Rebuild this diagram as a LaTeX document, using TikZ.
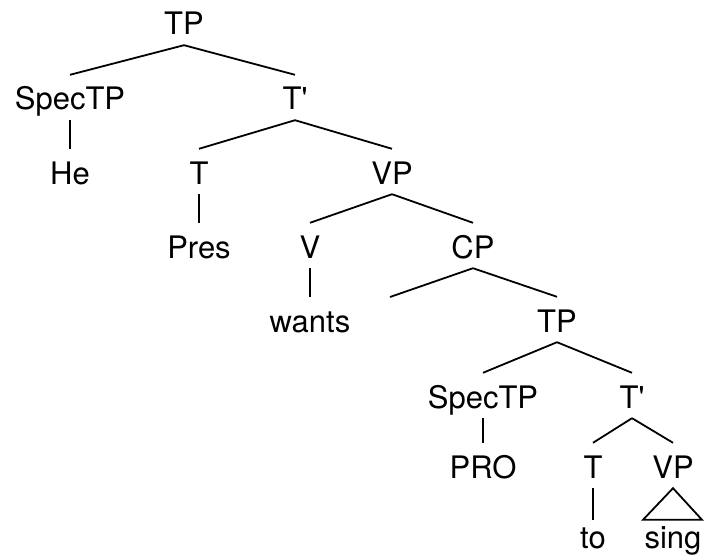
\documentclass[tikz,border=0pt]{standalone}
\usepackage{fontspec}
\setmainfont{TeX Gyre Heros}
\usetikzlibrary{calc}
\tikzset{
	cat/.style = {anchor=base, inner sep=3pt, text height=32pt, text depth=7pt, font=\fontsize{31}{37}\selectfont},
	low/.style = {text height=25pt},
	branch/.style = {line width=1.8pt}
}

\begin{document}
\begin{tikzpicture}[x=1pt,y=-1pt]
	\useasboundingbox (0,0) rectangle (704,559);

	\node [cat] (TP) at (184,35) {TP};
	\node [cat] (SpecTP) at (70,110) {SpecTP};
	\node [cat] (He) at (70,184) {He};
	\node [cat] (Tbar) at (295,110) {T\textquotesingle};
	\node [cat] (T) at (199,184) {T};
	\node [cat] (Pres) at (199,258) {Pres};
	\node [cat] (VP) at (392,184) {VP};
	\node [cat] (V) at (310,258) {V};
	\node [cat] (wants) at (310,332) {wants};
	\node [cat] (CP) at (473,258) {CP};
	\coordinate (C) at (390,297);
	\node [cat] (TPb) at (557,332) {TP};
	\node [cat] (SpecTPb) at (483,408) {SpecTP};
	\node [cat] (PRO) at (483,478) {PRO};
	\node [cat] (Tbarb) at (632,408) {T\textquotesingle};
	\node [cat] (Tb) at (593,478) {T};
	\node [cat, low] (to) at (593,548) {to};
	\node [cat] (VPb) at (673,478) {VP};
	\node [cat, low] (sing) at (673,548) {sing};

	\draw [branch] (TP.south) -- (SpecTP.north);
	\draw [branch] (TP.south) -- (Tbar.north);
	\draw [branch] (SpecTP.south) -- (He.north);
	\draw [branch] (Tbar.south) -- (T.north);
	\draw [branch] (Tbar.south) -- (VP.north);
	\draw [branch] (T.south) -- (Pres.north);
	\draw [branch] (VP.south) -- (V.north);
	\draw [branch] (VP.south) -- (CP.north);
	\draw [branch] (V.south) -- (wants.north);
	\draw [branch] (CP.south) -- (C);
	\draw [branch] (CP.south) -- (TPb.north);
	\draw [branch] (TPb.south) -- (SpecTPb.north);
	\draw [branch] (TPb.south) -- (Tbarb.north);
	\draw [branch] (SpecTPb.south) -- (PRO.north);
	\draw [branch] (Tbarb.south) -- (Tb.north);
	\draw [branch] (Tbarb.south) -- (VPb.north);
	\draw [branch] (Tb.south) -- (to.north);
	\draw [branch] (VPb.south) -- ($(sing.north)+(-30,0)$) -- ($(sing.north)+(29,0)$) -- cycle;
\end{tikzpicture}
\end{document}
